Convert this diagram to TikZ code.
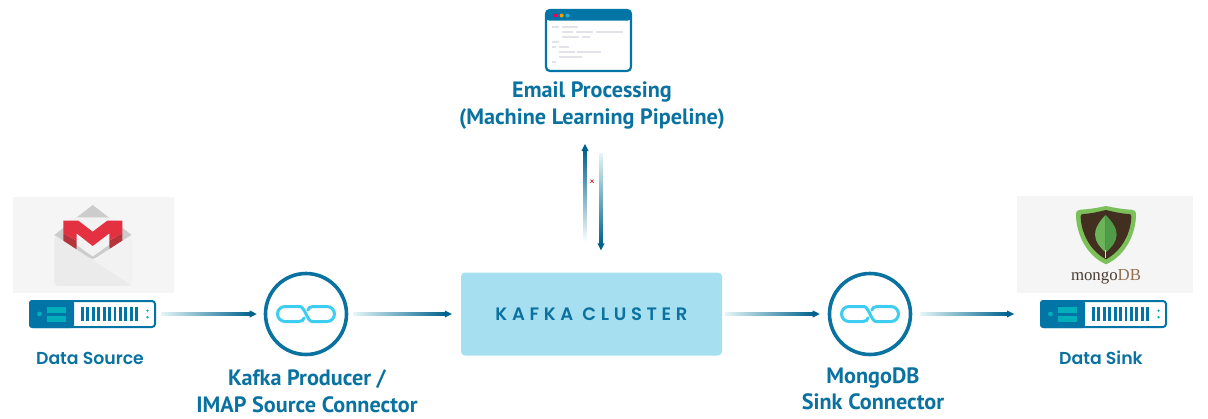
\documentclass[tikz,border=0pt]{standalone}
\usepackage{fontspec}
\usetikzlibrary{calc,arrows.meta}
\newfontfamily\labfont{PT Sans}
\newfontfamily\roundfont{Poppins SemiBold}
\newfontfamily\clusterfont[LetterSpace=26]{Poppins SemiBold}
\newfontfamily\mongofont{Liberation Serif}
\definecolor{kblue}{HTML}{0A72A0}
\definecolor{srv}{HTML}{0274A5}
\definecolor{tealc}{HTML}{00AFBA}
\definecolor{arrdark}{HTML}{00628C}
\definecolor{arrmid}{HTML}{4FB0C6}
\definecolor{arrlight}{HTML}{E4F6F7}
\definecolor{clusterfill}{HTML}{A6DFF0}
\definecolor{linkc}{HTML}{3DCDF0}
\definecolor{codeg}{HTML}{E2E2E8}
\definecolor{panel}{HTML}{F5F5F5}
\definecolor{gred}{HTML}{E43141}
\definecolor{gredd}{HTML}{B5333B}
\definecolor{mgreen}{HTML}{7CC05A}
\definecolor{mbrown}{HTML}{422F20}
\definecolor{leafl}{HTML}{6CB458}
\definecolor{leafd}{HTML}{4E9B48}
\definecolor{dotp}{HTML}{E6005C}
\definecolor{doto}{HTML}{F5A000}
\definecolor{dotc}{HTML}{2AB0D8}
\tikzset{
  lab/.style={text=kblue,align=center,inner sep=0pt,font=\labfont\bfseries\fontsize{22.2}{26.5}\selectfont},
  roundlab/.style={text=kblue,align=center,inner sep=0pt,font=\roundfont\fontsize{17.3}{20}\selectfont},
  srvbox/.style={draw=srv,fill=white,line width=2,rounded corners=3,minimum width=125,minimum height=26,inner sep=0},
  ringnode/.style={circle,draw=kblue,line width=3.6,fill=white,minimum size=81,inner sep=0},
  clusterbox/.style={fill=clusterfill,rounded corners=4,minimum width=261,minimum height=83,inner sep=0,
     text=kblue,font=\clusterfont\fontsize{18}{20}\selectfont},
  panelbox/.style={fill=panel,inner sep=0},
  codeline/.style={draw=codeg,line width=2},
  linkline/.style={draw=linkc,line width=3,line cap=round}
}
\newcommand{\hconn}[2]{%
  \shade[left color=arrlight,middle color=arrmid,right color=arrdark]
    ($(#1)+(0,-1.7)$) rectangle ($(#2)+(-6,1.7)$);
  \fill[arrdark] (#2) -- ($(#2)+(-7,-3.6)$) -- ($(#2)+(-7,3.6)$) -- cycle;}
\newcommand{\serverbody}[1]{%
  \begin{scope}[shift={(#1.west)}]
    \fill[srv,rounded corners=3] (0,-14) -- (45,-14) -- (45,14) -- (0,14) -- cycle;
    \fill[tealc] (10.5,0) circle (2.4);
    \fill[tealc] (18.3,-6.7) rectangle (37,-0.9);
    \fill[tealc] (18.3,1.9) rectangle (37,7.7);
    \foreach \i in {0,...,10} \fill[srv] (52+\i*5.43,-7) rectangle +(2.8,14);
    \fill[tealc] (118.5,-3.4) circle (1.3);
    \fill[tealc] (118.5,3.2) circle (1.3);
  \end{scope}}
\newcommand{\linkicon}[1]{%
  \begin{scope}[shift={(#1.center)}]
    \draw[linkline] (-6,-7.5) -- (-21,-7.5) arc[start angle=270,end angle=90,radius=7.5] -- (-7,7.5)
       .. controls (-4,7.5) and (-2.5,6) .. (-1.8,3.8);
    \draw[linkline] (6,7.5) -- (21,7.5) arc[start angle=90,end angle=-90,radius=7.5] -- (7,-7.5)
       .. controls (4,-7.5) and (2.5,-6) .. (1.8,-3.8);
    \draw[linkline] (-6,-7.5) .. controls (-1.5,-7.5) and (1.5,7.5) .. (6,7.5);
  \end{scope}}
\begin{document}
\begin{tikzpicture}[x=1pt,y=-1pt]
\useasboundingbox (0,0) rectangle (1208,418);
% panels
\node[panelbox,minimum width=161,minimum height=96] (gmailpanel) at (93.5,245) {};
\node[panelbox,minimum width=176,minimum height=97] (mongopanel) at (1105,244.5) {};
% gmail
\begin{scope}[shift={(50,200)},x=0.3333pt,y=-0.3333pt]
  \fill[black!20] (128,15) -- (13,105) -- (128,180) -- (245,105) -- cycle;
  \fill[black!5] (60,52) -- (197,52) -- (197,120) -- (128,170) -- (60,120) -- cycle;
  \fill[gredd] (40,100) -- (80,122) -- (80,150) -- (40,125) -- cycle;
  \fill[gredd] (217,100) -- (178,122) -- (178,150) -- (217,125) -- cycle;
  \fill[gred] (40,62) -- (85,62) -- (128,95) -- (172,62) -- (217,62) -- (217,100) -- (178,122) -- (178,100) -- (128,138) -- (80,100) -- (80,122) -- (40,100) -- cycle;
  \fill[black!20] (80,140) -- (128,170) -- (178,140) -- (178,150) -- (128,182) -- (80,150) -- cycle;
  \fill[black!8,rounded corners=4] (13,105) -- (128,180) -- (245,105) -- (245,258) -- (13,258) -- cycle;
  \fill[black!5] (128,180) -- (245,256) -- (245,105) -- cycle;
\end{scope}
% mongo
\begin{scope}[shift={(1065,200)},x=0.3333pt,y=-0.3333pt]
  \fill[mgreen] (123,18) .. controls (100,23) and (72,28) .. (47,29)
     .. controls (38,29) and (33,33) .. (33,44)
     .. controls (33,95) and (60,165) .. (123,193) .. controls (186,165) and (213,95) .. (213,44)
     .. controls (213,33) and (208,29) .. (199,29)
     .. controls (174,28) and (146,23) .. (123,18) -- cycle;
  \fill[mbrown] (123,30) .. controls (102,35) and (78,41) .. (54,42)
     .. controls (49,42) and (47,45) .. (47,50)
     .. controls (48,95) and (72,150) .. (123,178) .. controls (174,150) and (198,95) .. (199,50)
     .. controls (199,45) and (197,42) .. (192,42)
     .. controls (168,41) and (144,35) .. (123,30) -- cycle;
  \fill[leafl] (122,45) .. controls (102,65) and (90,85) .. (90,103)
     .. controls (90,125) and (105,143) .. (122,157) -- cycle;
  \fill[leafd] (122,45) .. controls (142,65) and (155,85) .. (155,103)
     .. controls (155,125) and (140,143) .. (122,157) -- cycle;
  \draw[black!15,line width=0.8] (122,150) -- (122,175);
\end{scope}
\node[inner sep=0,font=\mongofont\fontsize{16.8}{20}\selectfont] (mongoword) at (1106,276.5)
  {\textcolor[HTML]{4A3B30}{mongo}\textcolor[HTML]{8F6F50}{DB}};
% servers
\node[srvbox] (srcsrv) at (92.5,314) {};
\serverbody{srcsrv}
\node[srvbox] (sinksrv) at (1103.5,314) {};
\serverbody{sinksrv}
\node[roundlab] (srclab) at (90,358) {Data Source};
\node[roundlab] (sinklab) at (1101,358) {Data Sink};
% connectors rings
\node[ringnode] (ringa) at (306,314) {};
\node[ringnode] (ringb) at (870,314) {};
\linkicon{ringa}
\linkicon{ringb}
\node[lab] (ringalab) at (307,391) {Kafka Producer /\\IMAP Source Connector};
\node[lab] (ringblab) at (873,389) {MongoDB\\Sink Connector};
% cluster
\node[clusterbox] (kafka) at (591.5,314) {KAFKA CLUSTER};
% window
\node[draw=srv,line width=2.2,fill=white,rounded corners=4,minimum width=85,minimum height=61,inner sep=0] (win) at (588.5,40.5) {};
\begin{scope}[shift={(440,0)},x=0.3333pt,y=-0.3333pt]
  \fill[srv,rounded corners=4] (316,28) -- (575,28) -- (575,62) -- (316,62) -- cycle;
  \fill[dotp] (346,46.5) circle[radius=6];
  \fill[doto] (365,46.5) circle[radius=6];
  \fill[dotc] (383,46.5) circle[radius=6];
  \foreach \a/\b/\c in {337/358/82,367/415/82,367/400/97,408/460/97,468/550/97,367/418/112,427/449/112,337/358/127,337/347/142,356/388/142,356/404/157,412/483/157,356/426/172,337/347/187}
    \draw[codeline] (\a,\c) -- (\b,\c);
\end{scope}
\node[lab] (winlab) at (592,105.5) {Email Processing\\(Machine Learning Pipeline)};
% arrows
\coordinate (srcout) at ($(srcsrv.east)+(5,0)$);
\coordinate (aIn) at ($(ringa.west)+(-7,0)$);
\coordinate (aOut) at ($(ringa.east)+(5,0)$);
\coordinate (kIn) at ($(kafka.west)+(-9,0)$);
\coordinate (kOut) at ($(kafka.east)+(3,0)$);
\coordinate (bIn) at ($(ringb.west)+(-8,0)$);
\coordinate (bOut) at ($(ringb.east)+(8,0)$);
\coordinate (sinkIn) at ($(sinksrv.west)+(-26,0)$);
\hconn{srcout}{aIn}
\hconn{aOut}{kIn}
\hconn{kOut}{bIn}
\hconn{bOut}{sinkIn}
% vertical pair
\coordinate (upA) at ($(kafka.north)+(-6.5,-30)$);
\coordinate (upB) at (585,144);
\coordinate (dnA) at (601,153);
\coordinate (dnB) at ($(kafka.north)+(9.5,-22)$);
\shade[bottom color=white,middle color=arrmid,top color=arrdark]
  ($(upA)+(-1.7,0)$) rectangle ($(upB)+(1.7,6)$);
\fill[arrdark] (upB) -- ($(upB)+(-3.6,7)$) -- ($(upB)+(3.6,7)$) -- cycle;
\shade[top color=arrlight,middle color=arrmid,bottom color=arrdark]
  ($(dnA)+(-1.7,0)$) rectangle ($(dnB)+(1.7,-6)$);
\fill[arrdark] (dnB) -- ($(dnB)+(-3.6,-7)$) -- ($(dnB)+(3.6,-7)$) -- cycle;
\coordinate (xmark) at ($(kafka.north)+(0.5,-91)$);
\draw[red!80!black,line width=0.6] ($(xmark)+(-1.6,-1.6)$) -- ($(xmark)+(1.6,1.6)$);
\draw[red!80!black,line width=0.6] ($(xmark)+(-1.6,1.6)$) -- ($(xmark)+(1.6,-1.6)$);
\end{tikzpicture}
\end{document}
